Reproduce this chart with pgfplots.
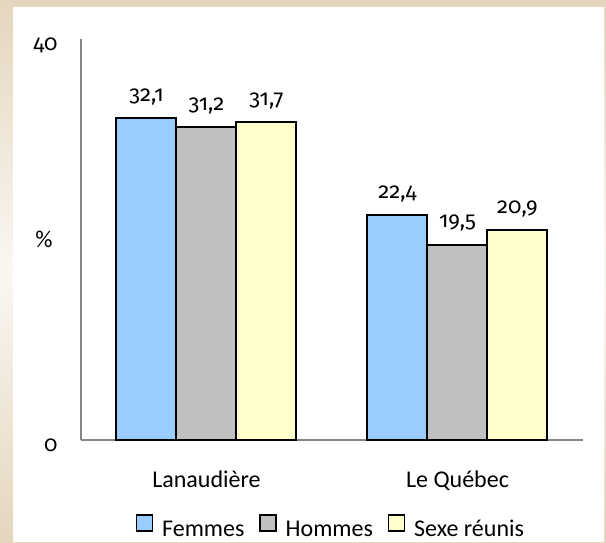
\documentclass[border=0pt]{standalone}
\usepackage{fontspec}
\setmainfont{Carlito}
\newfontfamily\numfont{Fira Sans}[Numbers=OldStyle, Scale=0.92]
\usepackage{pgfplots}
\pgfplotsset{compat=1.18}
\definecolor{bleu}{HTML}{99CCFF}
\definecolor{gris}{HTML}{C0C0C0}
\definecolor{jaune}{HTML}{FFFFCC}
\definecolor{axe}{HTML}{868686}
\definecolor{beigeA}{HTML}{E4D6BE}
\definecolor{beigeB}{HTML}{FAF7F2}
\begin{document}
\begin{tikzpicture}[font=\fontsize{12}{14}\selectfont]
\useasboundingbox (0,0) rectangle (303pt,271pt);
\shade[top color=beigeA, bottom color=beigeA, middle color=beigeB] (0,0) rectangle (303pt,271pt);
\fill[white] (6.5pt,0) rectangle (302pt,267.5pt);
\begin{axis}[
  at={(40.5pt,51pt)}, anchor=south west,
  scale only axis, width=251pt, height=200.5pt,
  ybar=0pt, bar width=30pt,
  xmin=-0.5, xmax=1.5, ymin=0, ymax=40,
  xtick={0,1}, xticklabels={Lanaudière, Le Québec},
  ytick={0,40},
  axis x line=bottom, axis y line=left,
  axis line style={-, draw=axe, line width=0.8pt},
  major tick length=0pt,
  tick style={draw=none},
  /pgf/number format/assume math mode=true,
  yticklabel style={anchor=base east, inner sep=0pt, xshift=-11.5pt, yshift=-5.5pt, font=\fontsize{12}{14}\numfont},
  xticklabel style={anchor=base, inner sep=0pt, yshift=-23.5pt},
  ylabel={\%},
  ylabel style={rotate=-90, at={(axis description cs:0,0.5)}, anchor=center, xshift=-18.5pt},
  nodes near coords={\pgfmathprintnumber[use comma,fixed,fixed zerofill,precision=1]{\pgfplotspointmeta}},
  nodes near coords style={anchor=base, inner sep=0pt, yshift=8.5pt, text=black, font=\fontsize{12}{14}\numfont},
  legend columns=3,
  legend style={at={(0.5,0)}, anchor=center, yshift=-44.5pt, draw=none, fill=none,
    /tikz/every odd column/.append style={column sep=2.5pt},
    /tikz/every even column/.append style={column sep=5.5pt}},
  legend image code/.code={\draw[#1, line width=0.6pt, draw=black] (0pt,-0.5pt) rectangle (8pt,7.5pt);},
]
\addplot[fill=bleu, draw=black, line width=1pt] coordinates {(0,32.1) (1,22.4)};
\addplot[fill=gris, draw=black, line width=1pt] coordinates {(0,31.2) (1,19.5)};
\addplot[fill=jaune, draw=black, line width=1pt] coordinates {(0,31.7) (1,20.9)};
\legend{Femmes, Hommes, Sexe réunis}
\end{axis}
\end{tikzpicture}
\end{document}
